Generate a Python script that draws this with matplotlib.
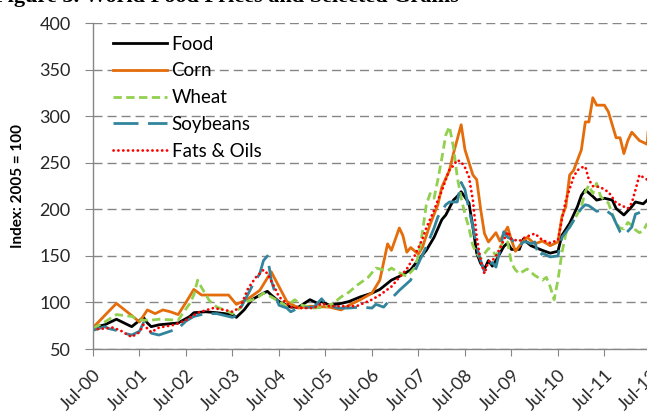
import numpy as np
import matplotlib
matplotlib.use("Agg")
import matplotlib.pyplot as plt
import matplotlib.dates as mdates

# all series: month offsets counted from Jul-2000, index 2005 = 100
START = np.datetime64("2000-07", "M")

food_m = [0, 3, 6, 9, 10, 13, 14, 15, 17, 22, 25, 26, 29, 32, 36, 37, 39, 41, 44, 45,
          46, 48, 50, 51, 53, 56, 58, 59, 61, 64, 66, 69, 72, 74, 77, 79, 82, 84, 86, 88,
          90, 91, 93, 94, 95, 97, 98, 99, 100, 101, 102, 103, 104, 106, 107, 108, 110, 111, 113, 116,
          118, 120, 121, 123, 125, 126, 127, 129, 130, 132, 134, 135, 137, 139, 140, 142, 143]
food_v = [73, 76, 82, 76, 74, 84, 78, 74, 76, 78, 85, 89, 90, 89, 87, 84, 92, 103, 110, 112,
          108, 101, 97, 95, 95, 103, 99, 101, 97, 99, 101, 106, 110, 114, 124, 128, 135, 146, 156, 170,
          189, 194, 210, 214, 219, 207, 181, 153, 142, 136, 145, 139, 145, 160, 164, 157, 157, 168, 161, 156,
          153, 155, 172, 185, 203, 215, 221, 214, 210, 212, 210, 201, 194, 203, 208, 206, 210]

corn_m = [0, 6, 10, 12, 14, 16, 18, 20, 22, 24, 26, 28, 35, 37, 40, 43, 46, 48, 50, 53,
          56, 61, 64, 66, 69, 72, 74, 76, 77, 79, 80, 81, 82, 84, 85, 87, 89, 90, 92, 93,
          95, 96, 98, 99, 100, 101, 102, 104, 105, 107, 108, 109, 111, 112, 114, 116, 118, 120, 121, 122,
          123, 124, 126, 127, 128, 129, 130, 132, 133, 135, 136, 137, 138, 139, 141, 143, 144]
corn_v = [73, 99, 86, 79, 92, 88, 92, 90, 87, 100, 114, 108, 108, 98, 104, 113, 133, 117, 101, 94,
          96, 95, 92, 97, 103, 110, 124, 163, 156, 180, 172, 154, 159, 152, 159, 184, 205, 224, 242, 260,
          291, 264, 237, 232, 200, 174, 165, 175, 166, 181, 167, 155, 166, 170, 163, 166, 161, 165, 192, 203,
          237, 242, 264, 294, 294, 320, 312, 312, 305, 277, 277, 260, 274, 283, 274, 270, 330]

wheat_m = [0, 3, 6, 10, 12, 15, 17, 22, 24, 25, 26, 27, 28, 30, 32, 34, 36, 38, 39, 42,
           44, 46, 48, 50, 52, 54, 57, 60, 62, 64, 66, 68, 71, 73, 76, 77, 79, 81, 83, 84,
           85, 86, 87, 88, 89, 90, 91, 92, 93, 94, 95, 96, 97, 98, 99, 100, 102, 103, 104, 106,
           107, 108, 109, 110, 112, 114, 116, 117, 118, 119, 120, 121, 122, 123, 125, 126, 127, 128, 129, 130,
           131, 132, 133, 134, 135, 136, 137, 138, 139, 140, 141, 142, 143]
wheat_v = [72, 79, 87, 85, 81, 81, 82, 81, 93, 99, 108, 124, 116, 102, 95, 92, 88, 94, 100, 104,
           110, 106, 101, 96, 103, 97, 94, 95, 99, 106, 111, 118, 127, 137, 134, 137, 132, 128, 137, 150,
           175, 205, 217, 212, 232, 255, 280, 289, 267, 235, 212, 195, 180, 161, 153, 147, 158, 156, 150, 167,
           165, 142, 135, 131, 136, 129, 124, 127, 117, 103, 124, 153, 174, 181, 195, 203, 219, 226, 217, 228,
           214, 210, 207, 195, 185, 180, 179, 186, 183, 178, 175, 177, 185]

soy_m = [0, 3, 4, 6, 8, 10, 12, 13, 14, 15, 17, 22, 24, 26, 29, 32, 36, 37, 39, 41,
         43, 44, 45, 46, 47, 48, 50, 51, 53, 57, 59, 60, 63, 66, 69, 72, 73, 75, 76, 79,
         82, 84, 86, 88, 89, 91, 92, 94, 95, 96, 97, 98, 99, 100, 101, 102, 103, 104, 105, 106,
         107, 108, 109, 110, 111, 112, 113, 114, 115, 116, 118, 120, 121, 123, 125, 126, 127, 128, 130, 132,
         134, 135, 136, 137, 139, 140, 142, 143]
soy_v = [70, 74, 72, 70, 67, 65, 69, 78, 74, 67, 65, 72, 80, 85, 88, 88, 84, 86, 101, 117,
         131, 145, 150, 124, 110, 97, 94, 90, 94, 95, 104, 99, 94, 94, 95, 94, 98, 95, 100, 113,
         124, 142, 160, 180, 192, 205, 208, 208, 229, 221, 200, 181, 160, 145, 133, 140, 143, 138, 156, 176,
         170, 168, 164, 160, 165, 165, 163, 165, 149, 153, 149, 150, 170, 181, 195, 201, 205, 204, 198, 200,
         194, 185, 176, 172, 181, 195, 198, 203]

fats_m = [0, 3, 5, 7, 9, 10, 12, 13, 14, 15, 17, 21, 24, 27, 31, 34, 36, 38, 40, 42,
          44, 45, 46, 47, 48, 50, 51, 53, 57, 59, 61, 64, 68, 72, 74, 77, 79, 81, 83, 85,
          86, 88, 89, 90, 91, 92, 93, 94, 95, 96, 97, 98, 99, 100, 101, 102, 103, 104, 105, 106,
          107, 108, 110, 111, 112, 114, 116, 118, 120, 121, 122, 123, 124, 125, 126, 127, 128, 129, 131, 132,
          133, 135, 137, 138, 139, 140, 141, 143]
fats_v = [71, 72, 73, 70, 65, 63, 68, 76, 72, 68, 73, 76, 81, 89, 94, 92, 90, 95, 115, 127,
          135, 131, 123, 115, 106, 99, 95, 94, 94, 99, 96, 96, 96, 103, 108, 117, 127, 136, 150, 168,
          180, 199, 210, 220, 232, 243, 247, 253, 251, 245, 235, 210, 170, 145, 131, 144, 145, 150, 158, 167,
          176, 168, 166, 169, 171, 174, 167, 164, 167, 189, 210, 222, 235, 242, 245, 246, 232, 225, 224, 221,
          219, 207, 203, 201, 207, 221, 237, 232]

labels = ["Food", "Corn", "Wheat", "Soybeans", "Fats & Oils"]
yticks = [50, 100, 150, 200, 250, 300, 350, 400]


def to_dates(months):
    return (START + np.array(months)).astype("datetime64[D]")


plt.rcParams["font.family"] = ["Lato", "DejaVu Sans"]

fig = plt.figure(figsize=(6.47, 4.12), dpi=100)
ax = fig.add_axes([93 / 647, 1 - 349 / 412, (651 - 93) / 647, (349 - 23.3) / 412])

lw = 2.0
ax.plot(to_dates(food_m), food_v, color="black", lw=lw, label=labels[0])
ax.plot(to_dates(corn_m), corn_v, color="#E46C0A", lw=lw, label=labels[1])
ax.plot(to_dates(wheat_m), wheat_v, color="#92D050", lw=lw, linestyle=(0, (3, 1.6)), label=labels[2])
ax.plot(to_dates(soy_m), soy_v, color="#31859C", lw=lw, linestyle=(0, (9, 3.4)), label=labels[3])
ax.plot(to_dates(fats_m), fats_v, color="#FF0000", lw=lw, linestyle=(0, (0.05, 1.7)),
        dash_capstyle="round", label=labels[4])

ax.set_ylim(50, 400)
ax.set_yticks(yticks)
ax.set_xlim(np.datetime64("2000-07-01"), np.datetime64("2012-07-01"))
ax.xaxis.set_major_locator(mdates.MonthLocator(bymonth=7))
ax.xaxis.set_major_formatter(mdates.DateFormatter("%b-%y"))

ax.yaxis.grid(True, color="#868686", linestyle=(0, (6.5, 3.6)), linewidth=1.0)
ax.set_axisbelow(True)
for s in ["top", "right"]:
    ax.spines[s].set_visible(False)
for s in ["left", "bottom"]:
    ax.spines[s].set_color("#868686")
    ax.spines[s].set_linewidth(1.0)

ax.tick_params(axis="y", direction="out", length=6, color="#868686", labelsize=13,
               labelcolor="#262626", pad=10)
ax.tick_params(axis="x", direction="out", length=5, color="#868686", labelsize=13,
               labelcolor="#262626", pad=8)
for t in ax.get_xticklabels():
    t.set_rotation(45)
    t.set_ha("right")
    t.set_rotation_mode("anchor")

fig.text(18 / 647, 0.548, "Index: 2005 = 100", rotation=90, ha="center", va="center",
         fontsize=11, fontweight="bold", color="black")

ax.legend(loc="upper left", bbox_to_anchor=(0.035, 0.962), frameon=False, fontsize=13.5,
          handlelength=2.9, handletextpad=0.25, labelspacing=0.52, borderpad=0, borderaxespad=0)

# caption above the chart, cut off by the top edge
fig.text(-0.01, 1 - 2 / 412, "Figure 3. World Food Prices and Selected Grains",
         fontsize=16, fontweight="bold", family="Liberation Serif", va="baseline")

fig.savefig("out.png", dpi=100)
